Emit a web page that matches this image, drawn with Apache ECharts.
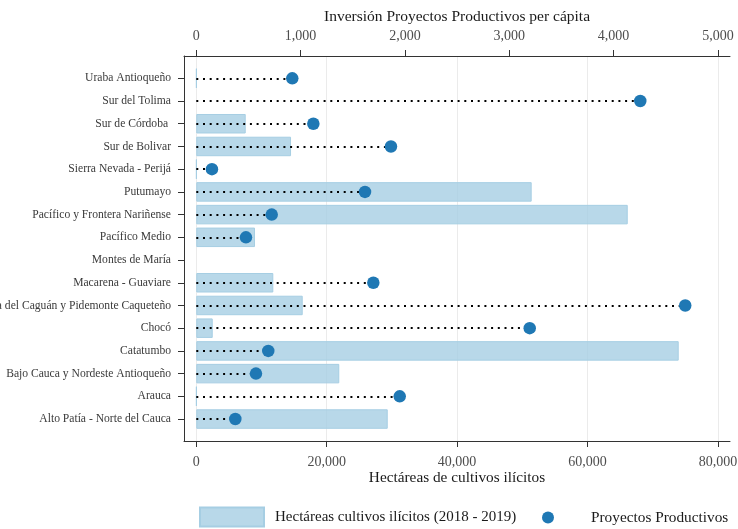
<!DOCTYPE html>
<html>
<head>
<meta charset="utf-8">
<script src="https://cdn.jsdelivr.net/npm/echarts@6/dist/echarts.min.js"></script>
<style>
html,body{margin:0;padding:0;background:#fff;}
#chart{width:738px;height:529px;}
</style>
</head>
<body>
<div id="chart"></div>
<script>
const categories = ['Uraba Antioqueño','Sur del Tolima','Sur de Córdoba ','Sur de Bolivar','Sierra Nevada - Perijá','Putumayo','Pacífico y Frontera Nariñense','Pacífico Medio','Montes de María','Macarena - Guaviare','Cuenca del Caguán y Pidemonte Caqueteño','Chocó','Catatumbo','Bajo Cauca y Nordeste Antioqueño','Arauca','Alto Patía - Norte del Cauca'];
const hectareas = [30, null, 7580, 14530, 30, 51440, 66170, 9000, null, 11810, 16320, 2520, 73990, 21930, 30, 29360];
const inversion = [920, 4256, 1122, 1866, 150, 1617, 723, 476, null, 1697, 4687, 3196, 690, 572, 1950, 374];
const bottomTicks = [0, 20000, 40000, 60000, 80000];
const topTicks = [0, 1000, 2000, 3000, 4000, 5000];
const barName = 'Hectáreas cultivos ilícitos (2018 - 2019)';
const dotName = 'Proyectos Productivos';
const bottomTitle = 'Hectáreas de cultivos ilícitos';
const topTitle = 'Inversión Proyectos Productivos per cápita';

const FONT = 'Liberation Serif';
const RATIO = 16;
const HMIN = -1886, HMAX = 81856;
const fmt = v => Number(v).toLocaleString('en-US');

const dotData = [];
const lineData = [];
inversion.forEach((v, i) => {
  if (v == null) return;
  dotData.push([v, i]);
  lineData.push({coords: [[0, i], [v, i]]});
});

const chart = echarts.init(document.getElementById('chart'), null, {renderer: 'canvas'});
const option = {
  backgroundColor: '#fff',
  animation: false,
  textStyle: {fontFamily: FONT},
  grid: [
    {left: 184, right: 8, top: 56, bottom: 88, containLabel: false, outerBoundsMode: 'none'},
    {left: 184, right: 8, top: 66.96, bottom: 98.6, containLabel: false, outerBoundsMode: 'none'}
  ],
  xAxis: [
    {
      gridIndex: 0, type: 'value', position: 'bottom', min: HMIN, max: HMAX,
      axisLine: {show: true, onZero: false, lineStyle: {color: '#333', width: 1}},
      axisTick: {show: true, length: 6, customValues: bottomTicks, lineStyle: {color: '#333', width: 1}},
      axisLabel: {show: true, customValues: bottomTicks, formatter: fmt, fontFamily: FONT, fontSize: 14, color: '#4d4d4d', margin: 14.5},
      splitLine: {show: true, lineStyle: {color: '#ebebeb', width: 1}},
      name: bottomTitle, nameLocation: 'middle', nameGap: 29.5, nameMoveOverlap: false,
      nameTextStyle: {fontFamily: FONT, fontSize: 15.3, color: '#1a1a1a'}
    },
    {
      gridIndex: 0, type: 'value', position: 'top', min: HMIN / RATIO, max: HMAX / RATIO,
      axisLine: {show: true, onZero: false, lineStyle: {color: '#333', width: 1}},
      axisTick: {show: true, length: 6, customValues: topTicks, lineStyle: {color: '#333', width: 1}},
      axisLabel: {show: true, customValues: topTicks, formatter: fmt, fontFamily: FONT, fontSize: 14, color: '#4d4d4d', margin: 12.5},
      splitLine: {show: false},
      name: topTitle, nameLocation: 'middle', nameGap: 31, nameMoveOverlap: false,
      nameTextStyle: {fontFamily: FONT, fontSize: 15.5, color: '#1a1a1a'}
    },
    {gridIndex: 1, type: 'value', position: 'bottom', min: HMIN, max: HMAX, show: false, axisLine: {onZero: false}},
    {gridIndex: 1, type: 'value', position: 'top', min: HMIN / RATIO, max: HMAX / RATIO, show: false, axisLine: {onZero: false}}
  ],
  yAxis: [
    {
      gridIndex: 0, type: 'value', min: 0, max: 1, position: 'left',
      axisLine: {show: true, onZero: false, lineStyle: {color: '#333', width: 1}},
      axisTick: {show: false}, axisLabel: {show: false}, splitLine: {show: false}
    },
    {
      gridIndex: 1, type: 'category', inverse: true, data: categories, position: 'left',
      axisLine: {show: false, onZero: false},
      axisTick: {show: true, alignWithLabel: true, length: 6, lineStyle: {color: '#333', width: 1}},
      axisLabel: {show: true, interval: 0, fontFamily: FONT, fontSize: 11.6, color: '#3a3a3a', margin: 13},
      splitLine: {show: false}
    }
  ],
  legend: [
    {
      data: [{name: barName, icon: 'rect'}], left: 199, top: 506.5, padding: 0,
      itemWidth: 64, itemHeight: 19,
      textStyle: {fontFamily: FONT, fontSize: 15, color: '#1a1a1a', padding: [0, 0, 0, 6]},
      selectedMode: false
    },
    {
      data: [{name: dotName, icon: 'circle'}], left: 542, top: 510, padding: 0,
      itemWidth: 12, itemHeight: 12,
      textStyle: {fontFamily: FONT, fontSize: 15.3, color: '#1a1a1a', padding: [0, 0, 0, 32]},
      selectedMode: false
    }
  ],
  series: [
    {
      name: barName, type: 'bar', xAxisIndex: 2, yAxisIndex: 1,
      data: hectareas, barWidth: 19.5,
      itemStyle: {color: 'rgba(166,206,227,0.8)', borderColor: '#a6cee3', borderWidth: 1},
      z: 2
    },
    {
      name: 'linea', type: 'lines', coordinateSystem: 'cartesian2d', xAxisIndex: 3, yAxisIndex: 1,
      data: lineData,
      lineStyle: {color: '#000', width: 2, type: [2, 4.7], opacity: 1, curveness: 0},
      symbol: ['none', 'none'],
      z: 3, silent: true
    },
    {
      name: dotName, type: 'scatter', xAxisIndex: 3, yAxisIndex: 1,
      data: dotData, symbolSize: 12.5,
      itemStyle: {color: '#1f78b4', opacity: 1},
      z: 4
    }
  ]
};
chart.setOption(option);
</script>
</body>
</html>
